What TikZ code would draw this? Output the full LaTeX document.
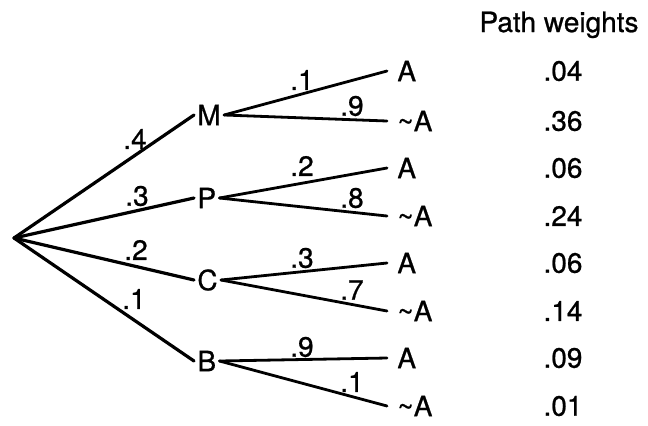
\documentclass[tikz,border=0pt]{standalone}
\usepackage{fontspec}
\setmainfont{TeX Gyre Heros}[FakeBold=0.8]
\begin{document}
\begin{tikzpicture}[x=0.5pt,y=-0.5pt,font=\fontsize{14}{16}\selectfont,line cap=round,line join=round,
	branch/.style={line width=1.6pt},twig/.style={line width=1.4pt},
	event/.style={anchor=west,inner xsep=1.5pt,inner ysep=0pt},
	leaf/.style={anchor=west,inner xsep=5pt,inner ysep=0pt},
	prob/.style={inner sep=0pt}]
	\useasboundingbox (0,0) rectangle (648,425);
	\coordinate (root) at (14,238);
	\node[anchor=base] (title) at (559,32) {Path weights};
	% first stage
	\foreach \ev/\y/\p/\px/\py in {M/115/.4/135/139,P/198/.3/137/196,C/280/.2/136/250,B/361/.1/134/299}{
		\node[event] (\ev) at (194,\y) {\ev};
		\draw[branch] (root) -- (\ev.west);
		\node[prob] (p\ev) at (\px,\py) {\p};
	}
	% second stage
	\foreach \ev/\ya/\yn/\pa/\pn/\ta/\tn/\wa/\wn in {M/71/121/.1/.9/80/106/.04/.36,P/168/216/.2/.8/166/198/.06/.24,C/263/311/.3/.7/258/290/.06/.14,B/358/406/.9/.1/347/382/.09/.01}{
		\node[leaf] (\ev-a) at (387,\ya) {A};
		\node[leaf] (\ev-n) at (387,\yn) {\textasciitilde A};
		\draw[twig] (\ev.east) -- (\ev-a.west);
		\draw[twig] (\ev.east) -- (\ev-n.west);
		\node[prob] (q\ev-a) at (302,\ta) {\pa};
		\node[prob] (q\ev-n) at (352,\tn) {\pn};
		\node (w\ev-a) at (563,\ya) {\wa};
		\node (w\ev-n) at (563,\yn) {\wn};
	}
\end{tikzpicture}
\end{document}
